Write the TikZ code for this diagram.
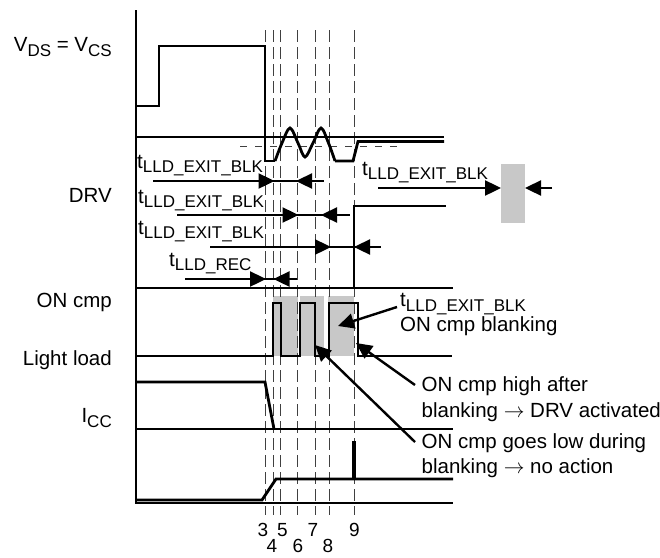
\documentclass[tikz,border=0pt]{standalone}
\usepackage{fontspec}
\setmainfont{Liberation Sans}
\usetikzlibrary{arrows.meta}
\definecolor{blankgray}{RGB}{200,200,200}
\newcommand{\mysub}[1]{\raisebox{-4.5pt}{\fontsize{17}{17}\selectfont #1}}
\begin{document}
\begin{tikzpicture}[x=1pt,y=-1pt,
  sig/.style={line width=2.8pt, line join=miter},
  baseln/.style={line width=2.4pt},
  guide/.style={line width=1pt, black!75, dash pattern=on 12pt off 5pt},
  lbl/.style={inner sep=0pt, font=\fontsize{20.5}{24}\selectfont},
  num/.style={inner sep=0pt, font=\fontsize{19}{21}\selectfont},
  dimln/.style={line width=2.4pt},
  tipar/.style={-{Triangle[length=16pt,width=15pt]}, line width=2.4pt},
  blankbox/.style={fill=blankgray, draw=none}]
\useasboundingbox (0,0) rectangle (660,557);

% blanking boxes
\fill[blankbox] (273,296) rectangle (297.5,356);
\fill[blankbox] (299.5,296) rectangle (324,356);
\fill[blankbox] (328,296) rectangle (353.5,356);
\fill[blankbox] (501,164) rectangle (525,223);

% dashed time markers
\foreach \x in {265,273.3,280.3,297.7,315,329.3,354.3}
  \draw[guide] (\x,30) -- (\x,515);

% axis
\draw[line width=2.8pt] (136,10) -- (136,504);

% V_DS
\draw[baseln] (136,137) -- (444,137);
\draw[line width=1pt, black!75, dash pattern=on 7pt off 8pt] (240,146) -- (400,146);
\draw[sig] (136,106) -- (159,106) -- (159,46) -- (265,46) -- (265,161) -- (275,161);
\draw[sig] plot[smooth, tension=0.55] coordinates {(275,161) (282,143) (290,128) (298,143) (305,157) (313,143) (321,128) (328.5,143) (335,161)};
\draw[sig] (335,161) -- (353,161) -- (358,141.5) -- (444,141.5);

% DRV
\draw[baseln] (136,288) -- (453,288);
\draw[sig] (354,288) -- (354,206) -- (446,206);

% ON cmp
\draw[sig] (136,356) -- (273,356) -- (273,303) -- (281,303) -- (281,356)
  -- (300,356) -- (300,303) -- (315,303) -- (315,356)
  -- (329,356) -- (329,303) -- (358,303) -- (358,356) -- (452,356);

% Light load
\draw[baseln] (136,429) -- (453,429);
\draw[sig] (136,382) -- (265,382) -- (274,429);

% ICC
\draw[baseln] (136,503) -- (453,503);
\draw[sig] (136,500) -- (262,500) -- (276,479) -- (453,479);
\draw[line width=3.2pt] (354,441) -- (354,479);

% timing arrows
\draw[dimln] (153,181) -- (324,181);
\draw[tipar] (250,181) -- (274.5,181);
\draw[tipar] (320,181) -- (296,181);

\draw[dimln] (177,215) -- (350,215);
\draw[tipar] (275,215) -- (298.5,215);
\draw[tipar] (345,215) -- (321,215);

\draw[dimln] (210,247) -- (381,247);
\draw[tipar] (305,247) -- (331,247);
\draw[tipar] (378,247) -- (354,247);

\draw[dimln] (185,279) -- (297,279);
\draw[tipar] (245,279) -- (266,279);
\draw[tipar] (295,279) -- (273.5,279);

\draw[tipar] (378,188) -- (501,188);
\draw[tipar] (552,188) -- (525,188);

% annotation arrows
\coordinate (a1s) at (397,307);
\coordinate (a1e) at (338,326);
\coordinate (a2s) at (415,385);
\coordinate (a2e) at (356,343);
\coordinate (a3s) at (415,442);
\coordinate (a3e) at (315,345);
\draw[tipar] (a1s) -- (a1e);
\draw[tipar] (a2s) -- (a2e);
\draw[tipar] (a3s) -- (a3e);

% left labels
\node[lbl, anchor=base east] (lvds) at (112,51.5) {V\mysub{DS} = V\mysub{CS}};
\node[lbl, anchor=base east] (ldrv) at (112,202.5) {DRV};
\node[lbl, anchor=base east] (lon) at (112,307.5) {ON cmp};
\node[lbl, anchor=base east] (lll) at (112,365.5) {Light load};
\node[lbl, anchor=base east] (licc) at (112,422.5) {I\mysub{CC}};

% timing labels
\node[lbl, anchor=base west] (t1) at (137,168) {t\mysub{LLD\_EXIT\_BLK}};
\node[lbl, anchor=base west] (t2) at (138,203) {t\mysub{LLD\_EXIT\_BLK}};
\node[lbl, anchor=base west] (t3) at (138,234) {t\mysub{LLD\_EXIT\_BLK}};
\node[lbl, anchor=base west] (t4) at (169,266) {t\mysub{LLD\_REC}};
\node[lbl, anchor=base west] (t5) at (362,175) {t\mysub{LLD\_EXIT\_BLK}};

% annotations
\node[lbl, anchor=base west] (n1a) at (400,306.5) {t\mysub{LLD\_EXIT\_BLK}};
\node[lbl, anchor=base west] (n1b) at (400,331.5) {ON cmp blanking};
\node[lbl, anchor=base west] (n2a) at (421.5,391.5) {ON cmp high after};
\node[lbl, anchor=base west] (n2b) at (421.5,417) {blanking $\rightarrow$ DRV activated};
\node[lbl, anchor=base west] (n3a) at (421.5,448) {ON cmp goes low during};
\node[lbl, anchor=base west] (n3b) at (421.5,473.5) {blanking $\rightarrow$ no action};

% time indices
\node[num] (k3) at (263,530) {3};
\node[num] (k4) at (272,546) {4};
\node[num] (k5) at (282.5,530) {5};
\node[num] (k6) at (298,546) {6};
\node[num] (k7) at (313,530) {7};
\node[num] (k8) at (328,546) {8};
\node[num] (k9) at (354.5,530) {9};
\end{tikzpicture}
\end{document}
